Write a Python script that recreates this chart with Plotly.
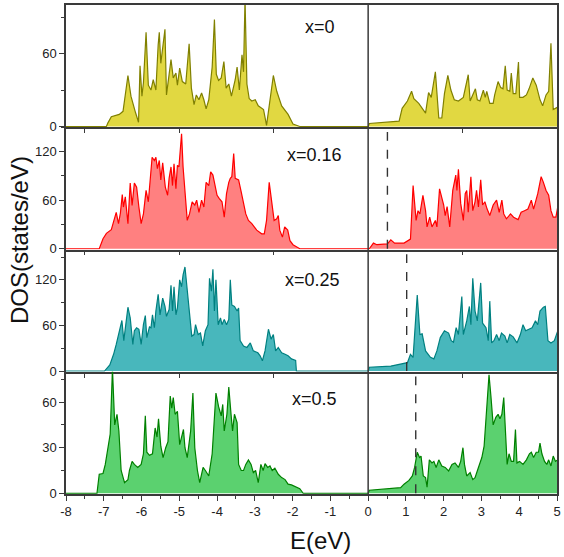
import plotly.graph_objects as go
from plotly.subplots import make_subplots

# ---------------- data (energy in eV, DOS in states/eV) ----------------
e_x0 = [-8.0, -6.93, -6.89, -6.80, -6.59, -6.49, -6.36, -6.28, -6.16, -6.08, -6.04, -5.99, -5.95, -5.88,
        -5.82, -5.75, -5.69, -5.62, -5.56, -5.53, -5.49, -5.43, -5.38, -5.34, -5.22, -5.16, -5.09, -5.05,
        -4.99, -4.92, -4.83, -4.74, -4.68, -4.61, -4.55, -4.48, -4.41, -4.35, -4.29, -4.22, -4.13, -4.07,
        -4.02, -3.96, -3.89, -3.82, -3.76, -3.69, -3.62, -3.52, -3.47, -3.41, -3.34, -3.30, -3.26, -3.21,
        -3.15, -3.08, -2.99, -2.91, -2.77, -2.69, -2.60, -2.51, -2.42, -2.29, -2.12, -2.03, -1.99, -1.81,
        0.0, 0.03, 0.82, 0.90, 1.04, 1.15, 1.21, 1.34, 1.52, 1.60, 1.67, 1.78, 1.87, 1.95, 2.02, 2.11,
        2.19, 2.28, 2.39, 2.52, 2.65, 2.70, 2.77, 2.84, 2.89, 2.96, 3.05, 3.10, 3.14, 3.22, 3.31, 3.35,
        3.44, 3.51, 3.57, 3.63, 3.68, 3.75, 3.79, 3.84, 3.91, 3.98, 4.01, 4.10, 4.19, 4.26, 4.36, 4.45,
        4.55, 4.62, 4.71, 4.78, 4.84, 4.90, 5.02]
dos_x0 = [0, 0, 3, 8, 10, 12.5, 42, 25, 11.5, 3.5, 50, 25, 36, 77.6,
          34, 30, 38.5, 30, 67, 77.6, 52, 70, 80, 26, 55, 40, 44, 34,
          48, 37, 35, 68, 31.6, 18, 26, 22, 27.6, 22, 14.5, 22, 49, 88,
          43, 38, 40, 53.5, 31.6, 35, 25, 38.5, 49, 30, 59, 45, 105, 35,
          23, 21, 22, 17, 14, 1, 22, 42, 29, 17, 10, 5, 2, 0,
          0, 2.5, 4.4, 15, 21, 29, 23, 19, 11, 28, 24, 45, 7, 7, 27, 42,
          30, 22, 21, 24, 42.6, 21, 26, 31, 22, 21, 30, 24, 29, 19, 19, 26,
          37, 32, 31, 50, 30, 29, 44, 27, 27, 53, 24, 24, 26, 31, 40, 34,
          22, 17, 26, 29, 68.6, 14, 16]

e_x016 = [-8.0, -7.12, -7.02, -6.93, -6.80, -6.74, -6.67, -6.61, -6.56, -6.51, -6.48, -6.43, -6.36, -6.30,
          -6.25, -6.19, -6.13, -6.07, -6.01, -5.95, -5.88, -5.82, -5.78, -5.72, -5.66, -5.62, -5.58, -5.53,
          -5.49, -5.44, -5.37, -5.31, -5.27, -5.22, -5.18, -5.14, -5.09, -5.05, -5.01, -4.94, -4.90, -4.85,
          -4.79, -4.73, -4.66, -4.59, -4.54, -4.48, -4.41, -4.35, -4.29, -4.22, -4.17, -4.11, -4.06, -4.00,
          -3.94, -3.87, -3.81, -3.75, -3.69, -3.65, -3.61, -3.56, -3.52, -3.43, -3.36, -3.30, -3.24, -3.17,
          -3.08, -2.95, -2.82, -2.75, -2.69, -2.62, -2.56, -2.49, -2.42, -2.38, -2.34, -2.27, -2.21, -2.13,
          -2.07, -1.99, -1.81,
          0.0, 0.03, 0.14, 0.23, 0.51, 0.60, 0.70, 0.95, 1.12, 1.19, 1.27, 1.32, 1.37, 1.45, 1.52, 1.56,
          1.63, 1.69, 1.78, 1.82, 1.89, 1.94, 2.00, 2.04, 2.09, 2.16, 2.24, 2.32, 2.35, 2.39, 2.45, 2.52,
          2.57, 2.61, 2.65, 2.72, 2.77, 2.83, 2.87, 2.92, 2.98, 3.03, 3.09, 3.15, 3.22, 3.31, 3.40, 3.47,
          3.54, 3.59, 3.66, 3.77, 3.85, 3.97, 4.05, 4.14, 4.23, 4.32, 4.38, 4.49, 4.58, 4.64, 4.71, 4.78,
          4.84, 4.90, 4.97, 5.02]
dos_x016 = [0, 0, 12.4, 19, 23.5, 33, 45, 31, 44, 67, 51.5, 64, 31, 81,
            53.6, 81, 76, 51.5, 31, 43, 72, 58, 85, 113, 109, 113, 99, 109,
            85, 106, 76, 66, 87, 101, 78, 105, 74, 103, 101, 142, 101, 72,
            35, 43, 58, 54, 60, 45, 60, 51.5, 82, 78, 95, 91, 80, 66,
            62, 58, 39, 68, 82, 87, 89, 117.5, 87, 85, 70, 58, 43, 35,
            31, 23, 18.5, 18.5, 35, 82, 60, 35, 37, 41, 23, 14.4, 27, 23,
            10, 5, 0,
            0, 0, 7, 5, 6, 11, 7, 7, 12, 78, 35, 47, 43, 66, 47, 27,
            39, 27, 35, 27, 74, 66, 54, 41, 52, 27, 72, 91, 72, 98, 56, 35,
            68, 72, 45, 89, 47, 58, 72, 51.5, 85, 54, 58, 49, 41, 54, 60, 45,
            60, 43, 37, 43, 39, 36, 45, 47, 49, 60, 49, 68, 89, 82, 72, 66,
            47, 39, 39, 51.5]

e_x025 = [-8.0, -6.98, -6.84, -6.74, -6.67, -6.60, -6.52, -6.47, -6.42, -6.36, -6.30, -6.23, -6.19, -6.13,
          -6.07, -6.01, -5.95, -5.90, -5.86, -5.79, -5.75, -5.71, -5.66, -5.62, -5.56, -5.51, -5.44, -5.38,
          -5.34, -5.27, -5.22, -5.18, -5.14, -5.09, -5.05, -4.99, -4.94, -4.90, -4.85, -4.79, -4.73, -4.67,
          -4.61, -4.57, -4.50, -4.44, -4.38, -4.31, -4.24, -4.20, -4.15, -4.11, -4.07, -4.03, -3.97, -3.91,
          -3.87, -3.81, -3.75, -3.69, -3.65, -3.61, -3.54, -3.47, -3.43, -3.39, -3.30, -3.21, -3.12, -3.04,
          -2.92, -2.86, -2.80, -2.73, -2.64, -2.57, -2.51, -2.45, -2.38, -2.29, -2.20, -2.12, -2.03, -1.92,
          -1.90,
          0.0, 0.03, 0.25, 0.60, 1.04, 1.12, 1.19, 1.30, 1.37, 1.43, 1.52, 1.65, 1.74, 1.82, 1.91, 2.02,
          2.13, 2.20, 2.26, 2.33, 2.39, 2.48, 2.52, 2.61, 2.68, 2.72, 2.77, 2.83, 2.89, 2.98, 3.03, 3.12,
          3.18, 3.22, 3.27, 3.33, 3.40, 3.47, 3.53, 3.62, 3.68, 3.75, 3.84, 3.94, 4.03, 4.10, 4.17, 4.26,
          4.34, 4.43, 4.49, 4.55, 4.64, 4.69, 4.76, 4.84, 4.93, 5.02]
dos_x025 = [0, 0, 8, 22, 35, 50, 66.5, 40, 57, 84, 70, 35, 53, 57,
            55, 35, 61, 73, 44, 58, 57, 74, 57, 79, 101, 74, 96, 85,
            72, 81, 113, 79, 111, 74, 83, 120, 111, 126.5, 137, 109, 79, 46,
            48, 61, 48, 50, 33, 53, 61, 122, 105, 134, 79, 120, 61, 70,
            61, 68, 61, 68, 120, 87, 85, 79, 83, 40, 33, 31, 37, 26.5,
            24, 20, 13.5, 26.5, 55, 42, 48, 26.5, 31, 24, 22, 20, 16, 14,
            0,
            0, 5, 5.6, 6.5, 11, 22, 18, 100, 48, 49, 26.5, 18, 16, 26.5, 44, 53,
            50, 40, 38, 57, 48, 98, 48, 66, 85, 61, 122, 79, 66, 116, 63, 57,
            40, 92, 37, 40, 48, 40, 50, 46, 37, 48, 45, 37, 48, 61, 53, 55,
            57, 66, 61, 79, 84, 85, 40, 37, 40, 53]

e_x05 = [-8.0, -7.18, -7.12, -7.02, -6.96, -6.89, -6.83, -6.77, -6.71, -6.65, -6.60, -6.54, -6.45, -6.36,
         -6.32, -6.25, -6.19, -6.10, -6.01, -5.95, -5.90, -5.86, -5.79, -5.71, -5.64, -5.59, -5.55, -5.49,
         -5.43, -5.36, -5.30, -5.24, -5.20, -5.16, -5.11, -5.05, -4.99, -4.94, -4.89, -4.85, -4.79, -4.70,
         -4.64, -4.59, -4.52, -4.46, -4.37, -4.31, -4.22, -4.13, -4.07, -4.03, -3.96, -3.89, -3.85, -3.81,
         -3.74, -3.69, -3.63, -3.59, -3.54, -3.47, -3.43, -3.36, -3.30, -3.24, -3.17, -3.10, -3.04, -2.98,
         -2.91, -2.84, -2.78, -2.73, -2.66, -2.60, -2.54, -2.47, -2.38, -2.29, -2.20, -2.12, -2.03, -1.92,
         -1.81, -1.72,
         0.0, 0.03, 0.86, 0.95, 1.08, 1.17, 1.23, 1.30, 1.36, 1.40, 1.46, 1.52, 1.56, 1.62, 1.69, 1.74,
         1.80, 1.87, 1.95, 2.04, 2.13, 2.22, 2.30, 2.39, 2.45, 2.51, 2.55, 2.61, 2.70, 2.77, 2.83, 2.92,
         3.01, 3.07, 3.14, 3.20, 3.25, 3.31, 3.38, 3.44, 3.49, 3.54, 3.59, 3.63, 3.68, 3.73, 3.79, 3.85,
         3.90, 3.94, 4.01, 4.10, 4.19, 4.27, 4.32, 4.38, 4.45, 4.51, 4.55, 4.60, 4.67, 4.73, 4.78, 4.84,
         4.90, 4.96, 5.02]
dos_x05 = [0, 0, 12.5, 13, 19, 31, 39, 82, 45, 52, 41, 15, 7, 9,
           15, 21, 19, 17, 19, 26, 51, 27, 25, 26, 43, 37, 49, 31,
           23.5, 30, 34, 64, 56, 63, 52, 54, 32, 37, 42, 30, 23.5, 41,
           66, 30, 15, 7, 17, 15, 11.4, 26, 46.5, 66, 57, 51, 58.5, 41,
           52, 70, 52, 41, 52, 46.5, 19, 15, 15, 19, 22, 19, 13.6, 15,
           7, 19, 15, 19.5, 17, 18, 15, 16.5, 12.5, 10.3, 9, 6, 5.5, 4,
           3, 0,
           0, 2, 3.7, 6, 8.5, 11.4, 17, 27, 23.5, 24.5, 11.4, 10.3, 4, 22, 20, 21,
           17, 22, 18, 17, 14.7, 19, 20, 17, 21, 30, 19, 11.4, 13.6, 9, 10.3, 17,
           23.5, 31, 58.5, 78, 64, 45, 50, 52, 49, 52, 63, 41, 19, 26, 21, 21,
           42, 20, 21, 19, 22, 26, 27, 23.5, 27, 27, 33, 26, 21, 19, 22, 18,
           24.5, 21, 22]

labels = ["x=0", "x=0.16", "x=0.25", "x=0.5"]
fermi = [None, 0.51, 1.02, 1.26]
y_max = [100, 150, 160, 80]
y_major = [60, 60, 60, 30]
y_minor = [30, 30, 30, 15]
label_y = [82, 116, 120, 62]
label_x = [-1.72, -2.2, -2.25, -2.06]
line_colors = ["#808000", "#FF0000", "#008080", "#008000"]
fill_colors = ["#E1D841", "#FF8080", "#48B7BC", "#5BD16F"]
x_tick_vals = [-8, -7, -6, -5, -4, -3, -2, -1, 0, 1, 2, 3, 4, 5]
x_tick_text = ["-8", "-7", "-6", "-5", "-4", "-3", "-2", "-1", "0", "1", "2", "3", "4", "5"]
panel_tick_vals = [-7.5, -5, -2.5, 2.5]

series = [(e_x0, dos_x0), (e_x016, dos_x016), (e_x025, dos_x025), (e_x05, dos_x05)]

FONT = "Arial, 'Liberation Sans', sans-serif"
AX = "#3a3a3a"

fig = make_subplots(rows=4, cols=1, shared_xaxes=True, vertical_spacing=0)

for i, (e, d) in enumerate(series):
    r = i + 1
    fig.add_trace(go.Scatter(x=e, y=d, mode="lines", fill="tozeroy",
                             line=dict(color=line_colors[i], width=1.2),
                             fillcolor=fill_colors[i], showlegend=False,
                             hoverinfo="skip"), row=r, col=1)
    ymax = y_max[i]
    fig.update_yaxes(row=r, col=1, range=[-ymax * 0.006, ymax], dtick=y_major[i], tick0=0,
                     ticks="outside", ticklen=5, tickwidth=1.2, tickcolor=AX,
                     minor=dict(dtick=y_minor[i], tick0=0, ticks="outside", ticklen=3,
                                tickwidth=1.2, tickcolor=AX),
                     showline=True, linecolor=AX, linewidth=1.5, mirror=True,
                     showgrid=False, zeroline=False, layer="below traces",
                     tickfont=dict(family=FONT, size=13, color="#222"))
    if r < 4:
        fig.update_xaxes(row=r, col=1, range=[-8, 5], tickmode="array", tickvals=panel_tick_vals,
                         ticks="outside", ticklen=4, tickwidth=1.2, tickcolor=AX,
                         showticklabels=False, showline=True, linecolor=AX, linewidth=1.5,
                         mirror=(r == 1), showgrid=False, zeroline=False, layer="below traces")
    else:
        fig.update_xaxes(row=r, col=1, range=[-8, 5], tickmode="array", tickvals=x_tick_vals,
                         ticktext=x_tick_text, ticks="outside", ticklen=5, tickwidth=1.2, tickcolor=AX,
                         minor=dict(dtick=0.5, tick0=0, ticks="outside", ticklen=3, tickwidth=1.2,
                                    tickcolor=AX),
                         showticklabels=True, showline=True, linecolor=AX, linewidth=1.5,
                         showgrid=False, zeroline=False, layer="below traces",
                         tickfont=dict(family=FONT, size=13, color="#222"))
    # panel label
    xr = "x" if r == 1 else f"x{r}"
    yr = "y" if r == 1 else f"y{r}"
    fig.add_annotation(x=label_x[i], y=label_y[i], xref=xr, yref=yr, text=labels[i],
                       showarrow=False, xanchor="left", yanchor="middle",
                       font=dict(family=FONT, size=18, color="#111"))
    if fermi[i] is not None:
        fig.add_shape(type="line", xref=xr, yref=yr, x0=fermi[i], x1=fermi[i],
                      y0=0, y1=ymax * 0.96, line=dict(color="#333", width=1.4, dash="dash"))

# vertical separator at E = 0 spanning all panels
fig.add_shape(type="line", xref="x4", yref="paper", x0=0, x1=0, y0=0, y1=1,
              line=dict(color=AX, width=1.5))

fig.add_annotation(x=-0.095, y=0.52, xref="paper", yref="paper", text="DOS(states/eV)",
                   textangle=-90, showarrow=False, xanchor="center", yanchor="middle",
                   font=dict(family=FONT, size=24, color="#111"))
fig.add_annotation(x=0.519, y=-0.096, xref="paper", yref="paper", text="E(eV)",
                   showarrow=False, xanchor="center", yanchor="middle",
                   font=dict(family=FONT, size=24, color="#111"))

fig.update_layout(width=564, height=557, margin=dict(l=66, r=3, t=5, b=63),
                  plot_bgcolor="white", paper_bgcolor="white", showlegend=False)

fig.write_html("out.html", config={"displayModeBar": False},
               post_script="document.body.style.margin='0';document.body.style.overflow='hidden';")
